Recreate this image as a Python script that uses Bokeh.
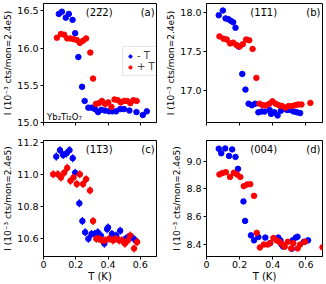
from bokeh.plotting import figure
from bokeh.layouts import gridplot
from bokeh.models import Range1d, FixedTicker, PrintfTickFormatter, Label, Legend, LegendItem
from bokeh.embed import file_html
from bokeh.resources import INLINE

# ---------------- data ----------------
a_blue_T = [0.095, 0.114, 0.138, 0.157, 0.180, 0.196, 0.216, 0.239, 0.255, 0.278, 0.298, 0.318,
            0.338, 0.358, 0.381, 0.406, 0.426, 0.450, 0.475, 0.498, 0.532, 0.576, 0.615, 0.640]
a_blue_I = [16.46, 16.49, 16.41, 16.46, 16.38, 16.20, 15.88, 15.48, 15.29, 15.20, 15.20, 15.18,
            15.14, 15.17, 15.16, 15.15, 15.15, 15.15, 15.18, 15.18, 15.16, 15.14, 15.10, 15.15]
a_red_T = [0.083, 0.108, 0.128, 0.147, 0.167, 0.186, 0.206, 0.225, 0.245, 0.264, 0.290, 0.307, 0.325,
           0.343, 0.362, 0.382, 0.401, 0.421, 0.440, 0.460, 0.479, 0.499, 0.518, 0.538, 0.557, 0.577]
a_red_I = [16.14, 16.19, 16.18, 16.13, 16.13, 16.12, 16.11, 16.07, 16.10, 16.13, 15.94, 15.59, 15.25,
           15.26, 15.29, 15.25, 15.27, 15.21, 15.31, 15.30, 15.27, 15.29, 15.29, 15.26, 15.30, 15.29]

b_blue_T = [0.074, 0.099, 0.115, 0.132, 0.146, 0.161, 0.175, 0.194, 0.216, 0.235, 0.254, 0.274, 0.293, 0.313,
            0.332, 0.351, 0.381, 0.390, 0.410, 0.429, 0.449, 0.468, 0.487, 0.507, 0.526, 0.546, 0.565]
b_blue_I = [17.96, 18.02, 17.92, 17.91, 17.89, 17.87, 17.80, 17.56, 17.21, 17.01, 16.83, 16.81, 16.83, 16.72,
            16.73, 16.73, 16.75, 16.70, 16.72, 16.68, 16.74, 16.77, 16.75, 16.75, 16.73, 16.72, 16.71]
b_red_T = [0.078, 0.103, 0.122, 0.142, 0.161, 0.181, 0.200, 0.219, 0.239, 0.258, 0.278, 0.301, 0.320, 0.340,
           0.359, 0.379, 0.398, 0.417, 0.437, 0.456, 0.476, 0.495, 0.515, 0.534, 0.553, 0.573, 0.627]
b_red_I = [17.69, 17.66, 17.65, 17.60, 17.61, 17.58, 17.56, 17.59, 17.65, 17.64, 17.53, 17.16, 16.83, 16.81,
           16.81, 16.83, 16.86, 16.83, 16.81, 16.80, 16.78, 16.80, 16.80, 16.81, 16.82, 16.82, 16.84]

c_blue_T = [0.079, 0.102, 0.122, 0.142, 0.161, 0.181, 0.196, 0.222, 0.241, 0.258, 0.278, 0.298, 0.317,
            0.336, 0.355, 0.377, 0.394, 0.400, 0.424, 0.450, 0.475, 0.508, 0.523, 0.547, 0.570]
c_blue_I = [11.11, 11.15, 11.12, 11.13, 11.15, 11.10, 11.01, 10.82, 10.71, 10.64, 10.60, 10.63, 10.63,
            10.64, 10.62, 10.57, 10.66, 10.67, 10.63, 10.62, 10.65, 10.60, 10.61, 10.61, 10.59]
c_red_T = [0.060, 0.089, 0.108, 0.128, 0.147, 0.167, 0.186, 0.206, 0.225, 0.245, 0.264, 0.288, 0.307, 0.327,
           0.343, 0.362, 0.381, 0.406, 0.430, 0.446, 0.469, 0.485, 0.504, 0.523, 0.537, 0.561, 0.580]
c_red_I = [11.00, 11.00, 10.98, 11.01, 11.04, 10.96, 10.98, 10.94, 11.00, 10.94, 10.97, 10.90, 10.71, 10.60,
           10.60, 10.59, 10.59, 10.60, 10.59, 10.60, 10.59, 10.59, 10.57, 10.59, 10.62, 10.54, 10.58]

d_blue_T = [0.074, 0.089, 0.113, 0.136, 0.155, 0.175, 0.190, 0.223, 0.233, 0.268, 0.287, 0.313,
            0.355, 0.384, 0.433, 0.446, 0.452, 0.462, 0.515, 0.520, 0.539, 0.549, 0.588, 0.613]
d_blue_I = [9.089, 9.056, 9.091, 9.037, 9.084, 9.030, 8.944, 8.710, 8.570, 8.466, 8.430, 8.454,
            8.450, 8.410, 8.450, 8.430, 8.400, 8.385, 8.370, 8.430, 8.450, 8.456, 8.420, 8.430]
d_red_T = [0.078, 0.097, 0.117, 0.142, 0.165, 0.184, 0.204, 0.225, 0.245, 0.264, 0.287, 0.303, 0.322, 0.346,
           0.369, 0.384, 0.404, 0.423, 0.439, 0.452, 0.462, 0.472, 0.491, 0.511, 0.524, 0.550, 0.565, 0.594, 0.700]
d_red_I = [8.904, 8.914, 8.920, 8.886, 8.916, 8.904, 8.886, 8.820, 8.832, 8.834, 8.750, 8.484, 8.379, 8.400,
           8.400, 8.410, 8.447, 8.430, 8.420, 8.407, 8.396, 8.384, 8.420, 8.372, 8.410, 8.372, 8.400, 8.420, 8.380]

errors = {"a": 0.012, "b": 0.012, "c": 0.025, "d": 0.008}
x_ticks = [0, 0.2, 0.4, 0.6]
y_ticks = {"a": [15.0, 15.5, 16.0, 16.5], "b": [17.0, 17.5, 18.0],
           "c": [10.6, 10.8, 11.0, 11.2], "d": [8.4, 8.6, 8.8, 9.0]}
y_ranges = {"a": (15.0, 16.6), "b": (16.59, 18.11), "c": (10.49, 11.21), "d": (8.314, 9.148)}
reflections = {"a": "(22\u03052)", "b": "(11\u03051)", "c": "(11\u03053)", "d": "(004)"}
y_label = "I (10\u207b\u00b3 cts/mon=2.4e5)"
x_label = "T (K)"
compound = "Yb\u2082Ti\u2082O\u2087"
legend_labels = ["- T", "+ T"]

BLUE = "#0000ff"
RED = "#ff0000"
FONT = "DejaVu Sans"


def make_panel(key, bT, bI, rT, rI, left, bottom):
    w = 163
    h = 153 if bottom else 131
    p = figure(width=w, height=h, output_backend="svg", toolbar_location=None,
               x_range=Range1d(0, 0.7), y_range=Range1d(*y_ranges[key]))
    p.min_border_left = 37 if left else 41
    p.min_border_right = 7 if left else 4
    p.min_border_top = 9 if bottom else 3
    p.min_border_bottom = 25 if bottom else 9
    p.background_fill_color = "white"
    p.border_fill_color = "white"
    p.outline_line_color = "black"
    p.outline_line_alpha = 1
    p.outline_line_width = 1
    p.xgrid.visible = False
    p.ygrid.visible = False

    for ax in (p.xaxis[0], p.yaxis[0]):
        ax.axis_line_color = "black"
        ax.major_tick_line_color = "black"
        ax.major_tick_in = 0
        ax.major_tick_out = 3
        ax.minor_tick_line_color = None
        ax.major_label_text_font = FONT
        ax.major_label_text_font_size = "9.5px"
        ax.major_label_text_color = "black"
        ax.major_label_standoff = 2
        ax.axis_label_text_font = FONT
        ax.axis_label_text_font_style = "normal"
        ax.axis_label_text_color = "black"

    p.xaxis.ticker = FixedTicker(ticks=x_ticks)
    p.xaxis.major_label_overrides = {0: "0", 0.2: "0.2", 0.4: "0.4", 0.6: "0.6"}
    if bottom:
        p.xaxis.axis_label = x_label
        p.xaxis.axis_label_text_font_size = "10px"
        p.xaxis.axis_label_standoff = 0
        p.xaxis.major_label_standoff = 1
    else:
        p.xaxis.major_label_text_font_size = "0px"
        p.xaxis.major_label_text_color = None
        p.xaxis.major_label_standoff = 0

    p.yaxis.ticker = FixedTicker(ticks=y_ticks[key])
    p.yaxis.formatter = PrintfTickFormatter(format="%.1f")
    p.yaxis.axis_label = y_label
    p.yaxis.axis_label_text_font_size = "9px"
    p.yaxis.axis_label_standoff = 1

    err = errors[key]
    p.segment(x0=bT, y0=[v - err for v in bI], x1=bT, y1=[v + err for v in bI],
              line_color=BLUE, line_width=1.2)
    rb = p.scatter(bT, bI, size=5.5, fill_color=BLUE, line_color=BLUE, marker="circle")
    p.segment(x0=rT, y0=[v - err for v in rI], x1=rT, y1=[v + err for v in rI],
              line_color=RED, line_width=1.2)
    rr = p.scatter(rT, rI, size=5.5, fill_color=RED, line_color=RED, marker="circle")

    y0, y1 = y_ranges[key]
    ytop = y1 - (y1 - y0) * 0.075
    p.add_layout(Label(x=0.345, y=ytop, text=reflections[key], text_align="center",
                       text_baseline="middle", text_font=FONT, text_font_size="10px",
                       text_color="black"))
    p.add_layout(Label(x=0.688, y=ytop, text="(" + key + ")", text_align="right",
                       text_baseline="middle", text_font=FONT, text_font_size="10px",
                       text_color="black"))
    if key == "a":
        p.add_layout(Label(x=0.022, y=y0 + (y1 - y0) * 0.05, text=compound, text_align="left",
                           text_baseline="middle", text_font=FONT, text_font_size="8.5px",
                           text_color="black"))
        legend = Legend(items=[LegendItem(label=legend_labels[0], renderers=[rb]),
                               LegendItem(label=legend_labels[1], renderers=[rr])],
                        location=(79, 46))
        legend.label_text_font = FONT
        legend.label_text_font_size = "10px"
        legend.glyph_width = 8
        legend.glyph_height = 10
        legend.label_height = 10
        legend.label_standoff = 3
        legend.padding = 3
        legend.spacing = 0
        legend.margin = 0
        legend.border_line_color = "#cccccc"
        legend.border_line_width = 1
        legend.background_fill_alpha = 0.9
        p.add_layout(legend, "center")
    return p


pa = make_panel("a", a_blue_T, a_blue_I, a_red_T, a_red_I, True, False)
pb = make_panel("b", b_blue_T, b_blue_I, b_red_T, b_red_I, False, False)
pc = make_panel("c", c_blue_T, c_blue_I, c_red_T, c_red_I, True, True)
pd = make_panel("d", d_blue_T, d_blue_I, d_red_T, d_red_I, False, True)

grid = gridplot([[pa, pb], [pc, pd]], toolbar_location=None)

with open("out.html", "w") as f:
    f.write(file_html(grid, INLINE))
